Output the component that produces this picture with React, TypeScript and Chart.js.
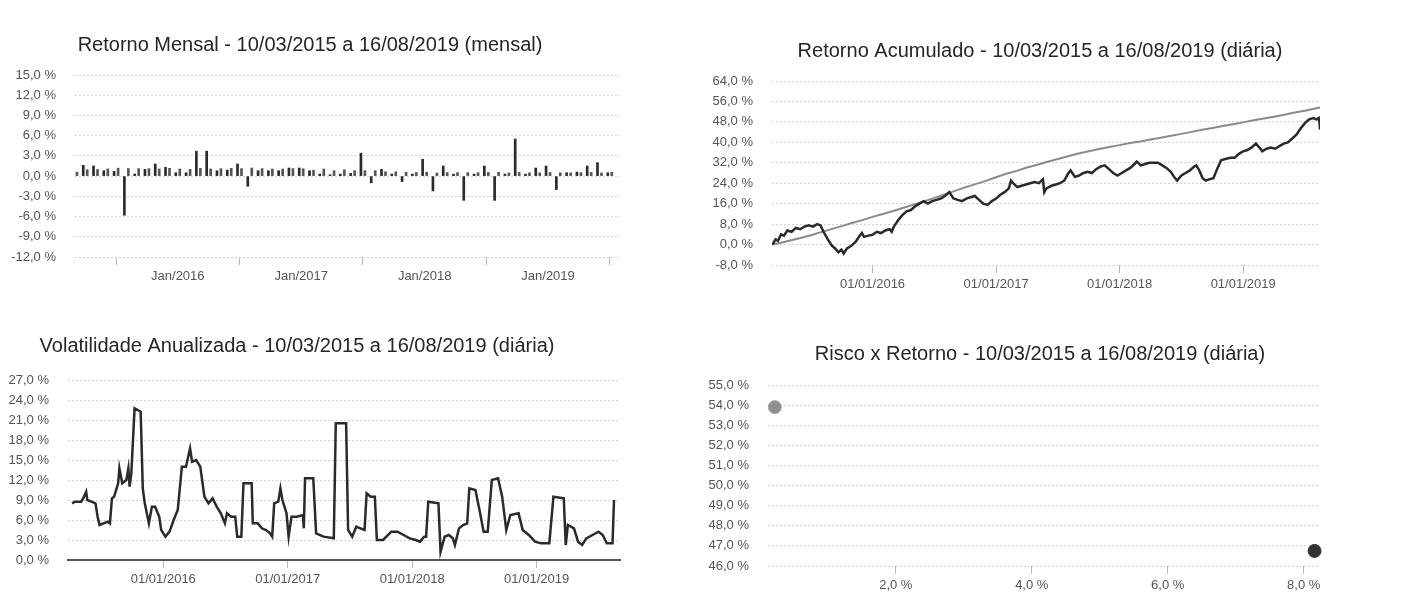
import React, { useEffect, useRef } from "react";
import { Chart, registerables } from "chart.js";

Chart.register(...registerables);

const FONT = "'Liberation Sans', Arial, sans-serif";
const TICK_COLOR = "#555";
const TITLE_COLOR = "#262626";
const GRID_COLOR = "#d2d2d2";
const FUND_COLOR = "#2a2a2a";
const CDI_COLOR = "#8a8a8a";

// ---------- titles
const titleMensal = "Retorno Mensal - 10/03/2015 a 16/08/2019 (mensal)";
const titleAcum = "Retorno Acumulado - 10/03/2015 a 16/08/2019 (diária)";
const titleVol = "Volatilidade Anualizada - 10/03/2015 a 16/08/2019 (diária)";
const titleRisco = "Risco x Retorno - 10/03/2015 a 16/08/2019 (diária)";

// ---------- period (decimal years)
const periodStart = 2015.186; // 10/03/2015
const periodEnd = 2019.622; // 16/08/2019
const monthlyAxisStart = 2015.167; // 01/03/2015
const monthlyAxisEnd = 2019.583; // 01/08/2019
const yearTicks = [2016, 2017, 2018, 2019];

// ---------- monthly returns (%)
const months = [
  "2015-03", "2015-04", "2015-05", "2015-06", "2015-07", "2015-08", "2015-09", "2015-10", "2015-11", "2015-12",
  "2016-01", "2016-02", "2016-03", "2016-04", "2016-05", "2016-06", "2016-07", "2016-08", "2016-09", "2016-10", "2016-11", "2016-12",
  "2017-01", "2017-02", "2017-03", "2017-04", "2017-05", "2017-06", "2017-07", "2017-08", "2017-09", "2017-10", "2017-11", "2017-12",
  "2018-01", "2018-02", "2018-03", "2018-04", "2018-05", "2018-06", "2018-07", "2018-08", "2018-09", "2018-10", "2018-11", "2018-12",
  "2019-01", "2019-02", "2019-03", "2019-04", "2019-05", "2019-06", "2019-07",
];
const fundMonthly = [
  0.6, 1.6, 1.5, 0.8, 0.7, -5.8, 0.3, 1.0, 1.8, 1.3,
  0.5, 0.5, 3.7, 3.7, 0.8, 0.9, 1.8, -1.5, 0.8, 0.8, 0.8, 1.2,
  1.2, 0.8, 0.3, 0.2, 0.3, 0.4, 3.4, -1.0, 1.0, 0.3, -0.8, 0.3,
  2.5, -2.2, 1.5, 0.3, -3.6, 0.3, 1.5, -3.6, 0.3, 5.5, 0.3, 1.2,
  1.5, -2.0, 0.5, 0.6, 1.5, 2.0, 0.5,
];
const cdiMonthly = [
  0.6, 0.95, 0.98, 1.07, 1.18, 1.11, 1.11, 1.11, 1.06, 1.16,
  1.05, 1.0, 1.16, 1.05, 1.11, 1.16, 1.11, 1.21, 1.11, 1.05, 1.04, 1.12,
  1.09, 0.87, 1.05, 0.79, 0.93, 0.81, 0.8, 0.8, 0.64, 0.64, 0.57, 0.54,
  0.58, 0.46, 0.53, 0.52, 0.52, 0.52, 0.54, 0.57, 0.47, 0.54, 0.49, 0.49,
  0.54, 0.49, 0.47, 0.52, 0.54, 0.47, 0.57,
];
const cdiAugustPartial = 0.3; // 01/08 to 16/08/2019

// ---------- cumulative return of the fund (%)
const cumYears = [
  2015.19, 2015.214, 2015.234, 2015.259, 2015.283, 2015.31, 2015.345, 2015.379, 2015.414, 2015.448,
  2015.483, 2015.517, 2015.552, 2015.579, 2015.603, 2015.638, 2015.672, 2015.697, 2015.724, 2015.748,
  2015.766, 2015.793, 2015.828, 2015.862, 2015.897, 2015.914, 2015.931, 2015.966, 2016.0, 2016.034,
  2016.069, 2016.103, 2016.138, 2016.155, 2016.172, 2016.207, 2016.241, 2016.276, 2016.31, 2016.345,
  2016.379, 2016.414, 2016.448, 2016.483, 2016.517, 2016.552, 2016.586, 2016.621, 2016.655, 2016.69,
  2016.724, 2016.759, 2016.793, 2016.828, 2016.862, 2016.897, 2016.931, 2016.966, 2017.0, 2017.034,
  2017.069, 2017.103, 2017.121, 2017.138, 2017.172, 2017.207, 2017.241, 2017.276, 2017.31, 2017.345,
  2017.379, 2017.39, 2017.407, 2017.448, 2017.483, 2017.517, 2017.552, 2017.586, 2017.603, 2017.638,
  2017.672, 2017.707, 2017.741, 2017.776, 2017.81, 2017.845, 2017.879, 2017.914, 2017.948, 2017.983,
  2018.017, 2018.052, 2018.086, 2018.121, 2018.138, 2018.172, 2018.207, 2018.241, 2018.276, 2018.31,
  2018.345, 2018.379, 2018.414, 2018.448, 2018.466, 2018.5, 2018.534, 2018.569, 2018.603, 2018.621,
  2018.645, 2018.672, 2018.697, 2018.724, 2018.759, 2018.793, 2018.821, 2018.855, 2018.897, 2018.931,
  2018.966, 2019.0, 2019.034, 2019.069, 2019.103, 2019.131, 2019.155, 2019.19, 2019.224, 2019.259,
  2019.293, 2019.328, 2019.362, 2019.397, 2019.431, 2019.466, 2019.5, 2019.534, 2019.569, 2019.593,
  2019.612, 2019.619, 2019.622,
];
const cumFund = [
  0, 2, 1.5, 4, 3.5, 5.5, 5, 6.5, 6, 7,
  7.5, 7, 8, 7.5, 5, 2, -0.5, -1.5, -3, -2,
  -3.5, -1.5, -0.5, 1, 3.5, 4.5, 3, 3.5, 3.8, 5,
  4.5, 5.5, 6, 5, 7, 9.5, 11.5, 13, 13.5, 15,
  16, 17, 16, 17, 17.5, 18, 19, 20.5, 18, 17.5,
  17, 18, 18.5, 19, 17.5, 16, 15.5, 17, 18, 19.5,
  20.5, 22, 25, 24, 22.5, 23, 23.5, 24, 24.5, 24,
  25.5, 20.5, 22, 23, 23.5, 24, 25, 28, 29, 26.5,
  27, 28, 28.5, 28, 29.5, 30.5, 31, 29.5, 28, 27,
  28, 29, 30, 31.5, 32.5, 31, 31.5, 32, 32, 32,
  31, 30, 28.5, 26, 25, 27, 28, 29, 30.5, 31,
  29, 26, 25, 25.5, 26, 30, 33, 33.5, 34, 34,
  35.5, 36.5, 37, 38, 39.5, 38, 36.5, 37.5, 38, 37.5,
  38.5, 39.5, 40, 41.5, 43, 45.5, 47.5, 49, 49.5, 49,
  49.5, 47.5, 45,
];

// ---------- annualized volatility of the fund (%)
const volAxisStart = 2015.234;
const volAxisEnd = 2019.67;
const volYears = [
  2015.267, 2015.29, 2015.34, 2015.356, 2015.38, 2015.389, 2015.422, 2015.455, 2015.472, 2015.488,
  2015.521, 2015.554, 2015.571, 2015.587, 2015.604, 2015.637, 2015.647, 2015.67, 2015.703, 2015.719,
  2015.729, 2015.743, 2015.769, 2015.795, 2015.818, 2015.835, 2015.851, 2015.884, 2015.908, 2015.934,
  2015.967, 2015.983, 2016.017, 2016.05, 2016.083, 2016.116, 2016.149, 2016.182, 2016.215, 2016.231,
  2016.264, 2016.297, 2016.33, 2016.363, 2016.396, 2016.429, 2016.462, 2016.495, 2016.512, 2016.545,
  2016.578, 2016.594, 2016.627, 2016.644, 2016.71, 2016.719, 2016.759, 2016.792, 2016.825, 2016.858,
  2016.875, 2016.891, 2016.924, 2016.941, 2016.957, 2016.99, 2017.007, 2017.03, 2017.073, 2017.122,
  2017.129, 2017.139, 2017.205, 2017.228, 2017.287, 2017.37, 2017.386, 2017.469, 2017.485, 2017.518,
  2017.551, 2017.584, 2017.617, 2017.634, 2017.667, 2017.7, 2017.716, 2017.766, 2017.832, 2017.881,
  2017.931, 2017.98, 2018.03, 2018.063, 2018.096, 2018.112, 2018.129, 2018.211, 2018.228, 2018.261,
  2018.294, 2018.327, 2018.343, 2018.376, 2018.409, 2018.442, 2018.459, 2018.508, 2018.541, 2018.574,
  2018.607, 2018.64, 2018.69, 2018.723, 2018.756, 2018.789, 2018.855, 2018.888, 2018.937, 2018.987,
  2019.036, 2019.102, 2019.135, 2019.218, 2019.234, 2019.251, 2019.3, 2019.333, 2019.366, 2019.399,
  2019.449, 2019.498, 2019.531, 2019.564, 2019.61, 2019.622,
];
const volFund = [
  8.5, 8.75, 8.75, 9.25, 10.25, 9.0, 8.75, 8.5, 6.5, 5.25,
  5.5, 5.75, 5.5, 9.25, 9.5, 11.5, 13.75, 11.5, 12.0, 13.75,
  11.0, 13.0, 22.75, 22.5, 22.25, 10.75, 8.5, 5.5, 8.0, 8.0,
  6.5, 4.5, 3.5, 4.25, 6.0, 7.5, 14.0, 14.0, 16.75, 14.75,
  15.0, 14.0, 9.5, 8.5, 9.25, 8.0, 7.0, 5.5, 7.0, 6.5,
  6.5, 3.5, 3.5, 11.5, 11.5, 5.5, 5.5, 4.75, 4.5, 4.0,
  3.5, 8.5, 8.75, 10.75, 9.0, 7.0, 3.5, 6.5, 6.5, 6.75,
  4.75, 12.25, 12.25, 4.0, 3.5, 3.25, 20.5, 20.5, 4.5, 3.5,
  5.0, 4.75, 4.5, 10.0, 9.5, 9.5, 3.0, 3.0, 4.25, 4.25,
  3.75, 3.25, 3.0, 2.75, 3.5, 3.5, 8.75, 8.5, 1.25, 3.5,
  3.75, 3.25, 2.25, 4.75, 5.25, 5.5, 10.75, 10.5, 7.5, 4.25,
  4.25, 12.0, 12.25, 9.5, 4.5, 6.75, 7.0, 4.5, 3.75, 2.75,
  2.5, 2.5, 9.5, 9.25, 2.25, 5.25, 4.75, 2.75, 2.25, 3.25,
  3.75, 4.25, 3.75, 2.5, 2.5, 9.0,
];

// ---------- risk x return
const riskNames = ["CDI", "Fundo"];
const riskVolatility = [0.22, 8.16];
const riskReturn = [53.9, 46.75];

// ---------- helpers
const pct = (v: number) => v.toFixed(1).replace(".", ",") + " %";
const monthX = (m: string) => {
  const [y, mo] = m.split("-").map(Number);
  return y + (mo - 1) / 12;
};
const tickFont = { family: FONT, size: 13 };

function titlePlugin(text: string, cx: number, cy: number) {
  return {
    id: "posTitle",
    afterDraw(chart: any) {
      const ctx = chart.ctx;
      ctx.save();
      ctx.font = `normal 20px ${FONT}`;
      ctx.fillStyle = TITLE_COLOR;
      ctx.textAlign = "center";
      ctx.textBaseline = "middle";
      ctx.fillText(text, cx, cy);
      ctx.restore();
    },
  };
}

function yScale(min: number, max: number, step: number, width: number) {
  return {
    min,
    max,
    ticks: { stepSize: step, font: tickFont, color: TICK_COLOR, padding: 19, callback: (v: any) => pct(Number(v)) },
    grid: { color: GRID_COLOR, lineWidth: 1, drawTicks: false },
    border: { display: false, dash: [2, 2] },
    afterFit: (s: any) => {
      s.width = width;
    },
  };
}

function xScale(min: number, max: number, tickValues: number[], label: (v: number) => string, height: number, borderDisplay = false) {
  return {
    type: "linear",
    min,
    max,
    offset: false,
    afterBuildTicks: (s: any) => {
      s.ticks = tickValues.map((v) => ({ value: v }));
    },
    ticks: { font: tickFont, color: TICK_COLOR, padding: 4, maxRotation: 0, autoSkip: false, callback: (v: any) => label(Number(v)) },
    grid: { drawOnChartArea: false, drawTicks: true, tickLength: 8, color: "#b5b5b5" },
    border: { display: borderDisplay, color: "#555", width: 2, dash: [2, 2] },
    afterFit: (s: any) => {
      s.height = height;
    },
  };
}

const baseOptions = (padding: any) => ({
  animation: false,
  responsive: false,
  devicePixelRatio: 1,
  layout: { padding },
  plugins: { legend: { display: false }, tooltip: { enabled: false }, title: { display: false } },
});

function cdiCumulative() {
  const pts: { x: number; y: number }[] = [{ x: periodStart, y: 0 }];
  let acc = 1;
  cdiMonthly.forEach((r, i) => {
    acc *= 1 + r / 100;
    if (i < months.length - 1) pts.push({ x: monthX(months[i + 1]), y: (acc - 1) * 100 });
  });
  pts.push({ x: monthlyAxisEnd, y: (acc - 1) * 100 });
  acc *= 1 + cdiAugustPartial / 100;
  pts.push({ x: periodEnd, y: (acc - 1) * 100 });
  return pts;
}

function configMensal() {
  return {
    type: "bar",
    data: {
      datasets: [
        {
          label: "Fundo",
          data: months.map((m, i) => ({ x: monthX(m), y: fundMonthly[i] })),
          backgroundColor: FUND_COLOR,
          barThickness: 4,
          maxBarThickness: 2,
        },
        {
          label: "CDI",
          data: months.map((m, i) => ({ x: monthX(m), y: cdiMonthly[i] })),
          backgroundColor: "#555",
          barThickness: 4,
          maxBarThickness: 2,
        },
      ],
    },
    options: {
      ...baseOptions({ top: 55, right: 20, left: 0, bottom: 0 }),
      scales: {
        x: xScale(monthlyAxisStart, monthlyAxisEnd, yearTicks, (v) => "Jan/" + v, 43),
        y: yScale(-12, 15, 3, 75),
      },
    },
    plugins: [titlePlugin(titleMensal, 310, 25)],
  };
}

function configAcum() {
  return {
    type: "line",
    data: {
      datasets: [
        {
          label: "Fundo",
          data: cumYears.map((x, i) => ({ x, y: cumFund[i] })),
          borderColor: FUND_COLOR,
          borderWidth: 2.5,
          pointRadius: 0,
          tension: 0,
        },
        {
          label: "CDI",
          data: cdiCumulative(),
          borderColor: CDI_COLOR,
          borderWidth: 2,
          pointRadius: 0,
          tension: 0,
        },
      ],
    },
    options: {
      ...baseOptions({ top: 61, right: 30, left: 0, bottom: 0 }),
      scales: {
        x: xScale(periodStart, periodEnd, yearTicks, (v) => "01/01/" + v, 40),
        y: yScale(-8, 64, 8, 72),
      },
    },
    plugins: [titlePlugin(titleAcum, 340, 31)],
  };
}

function configVol() {
  return {
    type: "line",
    data: {
      datasets: [
        {
          label: "Fundo",
          data: volYears.map((x, i) => ({ x, y: volFund[i] })),
          borderColor: FUND_COLOR,
          borderWidth: 2.5,
          pointRadius: 0,
          tension: 0,
        },
      ],
    },
    options: {
      ...baseOptions({ top: 65, right: 20, left: 0, bottom: 0 }),
      scales: {
        x: xScale(volAxisStart, volAxisEnd, yearTicks, (v) => "01/01/" + v, 45, true),
        y: yScale(0, 27, 3, 68),
      },
    },
    plugins: [titlePlugin(titleVol, 297, 31)],
  };
}

function configRisco() {
  return {
    type: "scatter",
    data: {
      datasets: riskNames.map((name, i) => ({
        label: name,
        data: [{ x: riskVolatility[i], y: riskReturn[i] }],
        backgroundColor: i === 0 ? "#8f8f8f" : "#333",
        borderColor: i === 0 ? "#a5a5a5" : "#333",
        borderWidth: 1,
        pointRadius: 6.5,
        clip: 10,
      })),
    },
    options: {
      ...baseOptions({ top: 70, right: 30, left: 0, bottom: 0 }),
      scales: {
        x: xScale(0.12, 8.24, [2, 4, 6, 8], (v) => pct(v), 39),
        y: yScale(46, 55, 1, 68),
      },
    },
    plugins: [titlePlugin(titleRisco, 340, 39)],
  };
}

function ChartBox({ left, top, width, height, make }: { left: number; top: number; width: number; height: number; make: () => any }) {
  const ref = useRef<HTMLCanvasElement>(null);
  useEffect(() => {
    const chart = new Chart(ref.current as HTMLCanvasElement, make());
    return () => chart.destroy();
  }, []);
  return (
    <canvas
      ref={ref}
      width={width}
      height={height}
      style={{ position: "absolute", left, top, width, height }}
    />
  );
}

export default function App() {
  return (
    <div
      style={{
        position: "absolute",
        left: 0,
        top: 0,
        width: 1409,
        height: 607,
        background: "#ffffff",
        overflow: "hidden",
      }}
    >
      <ChartBox left={0} top={20} width={640} height={280} make={configMensal} />
      <ChartBox left={700} top={20} width={650} height={285} make={configAcum} />
      <ChartBox left={0} top={315} width={640} height={290} make={configVol} />
      <ChartBox left={700} top={315} width={650} height={290} make={configRisco} />
    </div>
  );
}
